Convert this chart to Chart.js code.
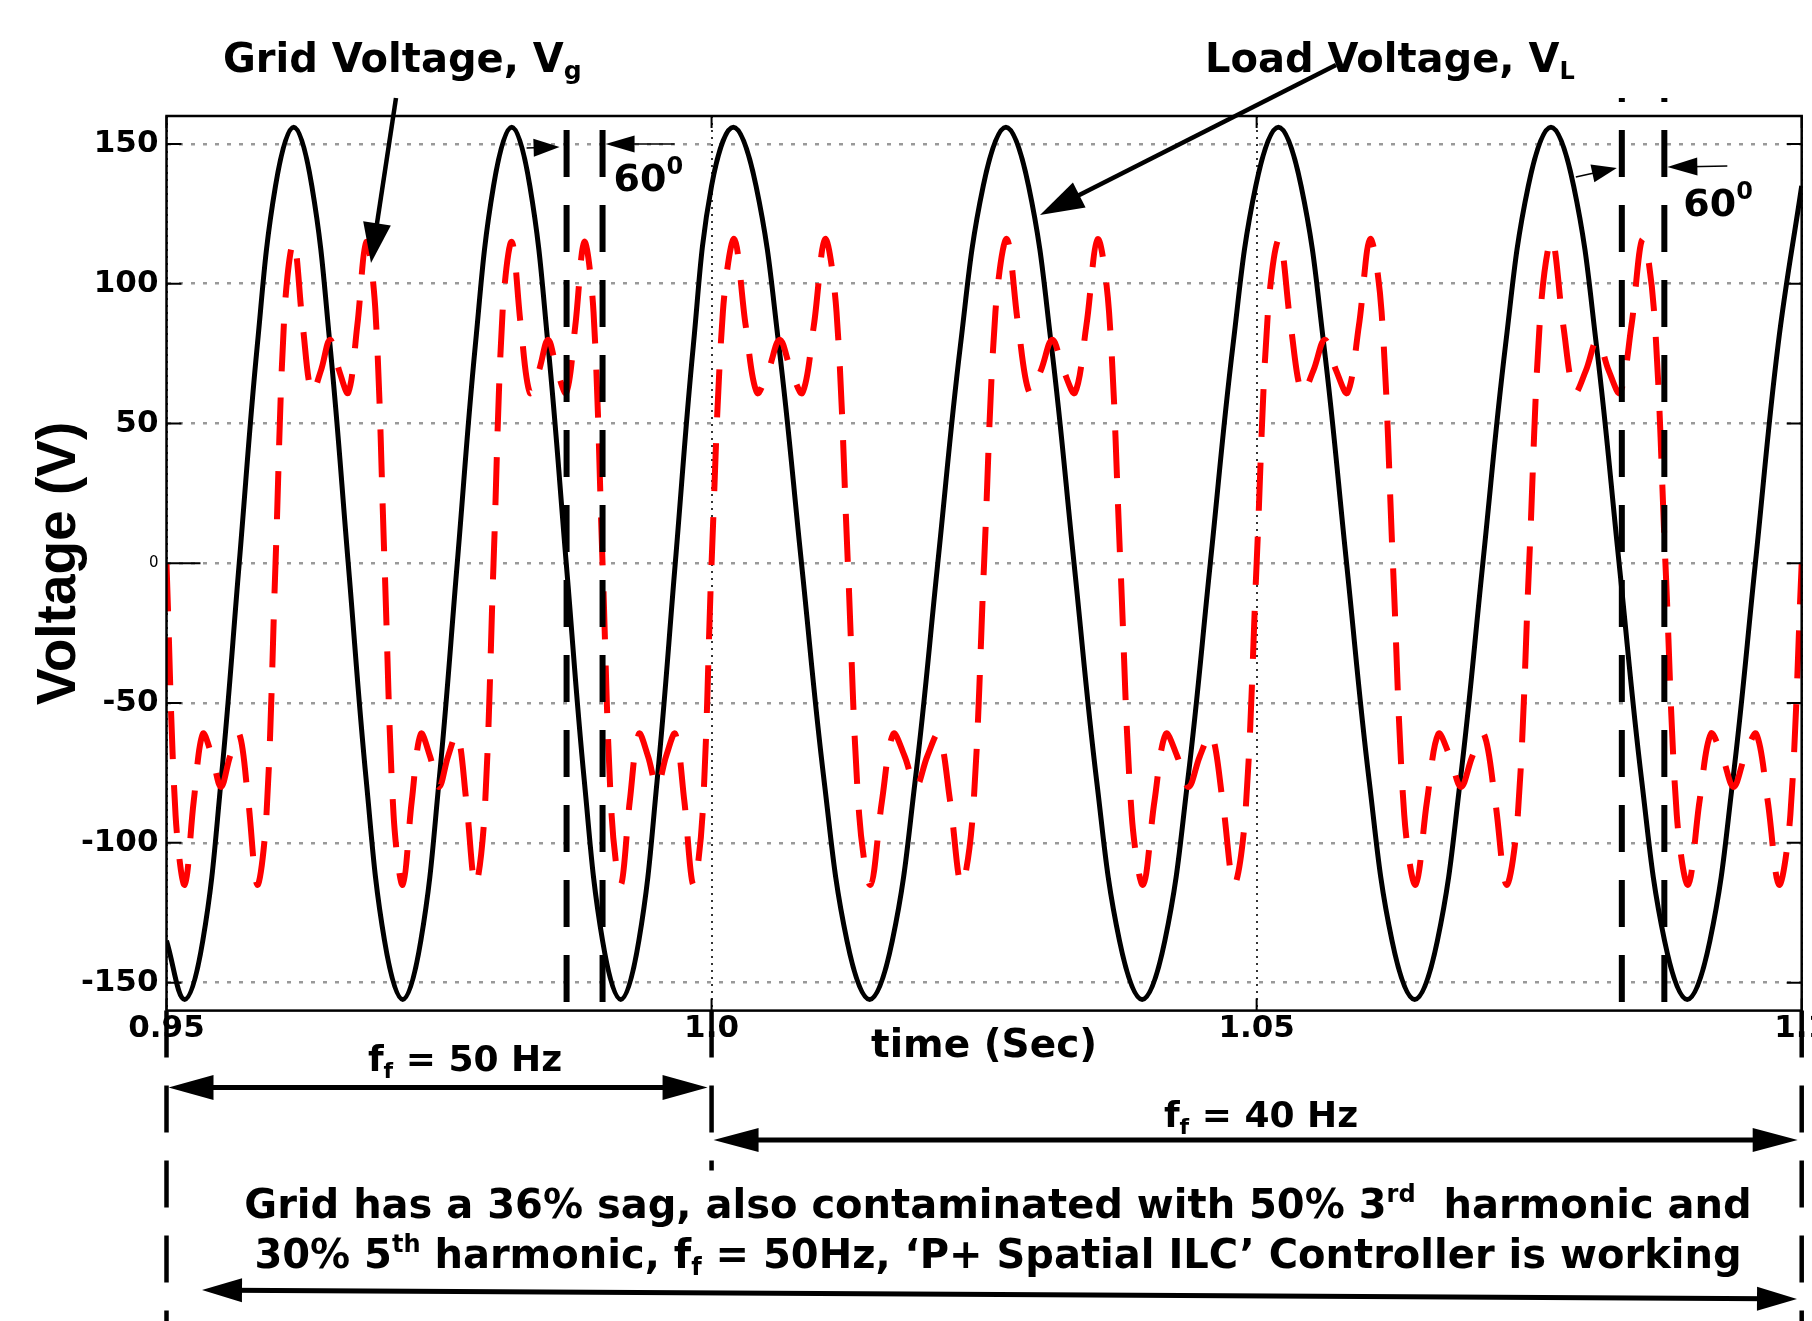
<!DOCTYPE html>
<html>
<head>
<meta charset="utf-8">
<title>Grid and load voltage</title>
<script src="https://cdn.jsdelivr.net/npm/chart.js@4.4.1/dist/chart.umd.min.js"></script>
<style>
  html, body { margin: 0; padding: 0; background: #fff; }
  #wrap { position: relative; width: 1812px; height: 1321px; }
</style>
</head>
<body>
<div id="wrap"><canvas id="voltChart"></canvas></div>
<script>
// Grid voltage Vg (red dashed), read every 15 deg of the fundamental
// 50 Hz until 1.0 s, 40 Hz after
const gridTime = [
    0.95, 0.95083, 0.95167, 0.9525, 0.95333, 0.95417, 0.955, 0.95583, 0.95667, 0.9575, 0.95833, 0.95917,
    0.96, 0.96083, 0.96167, 0.9625, 0.96333, 0.96417, 0.965, 0.96583, 0.96667, 0.9675, 0.96833, 0.96917,
    0.97, 0.97083, 0.97167, 0.9725, 0.97333, 0.97417, 0.975, 0.97583, 0.97667, 0.9775, 0.97833, 0.97917,
    0.98, 0.98083, 0.98167, 0.9825, 0.98333, 0.98417, 0.985, 0.98583, 0.98667, 0.9875, 0.98833, 0.98917,
    0.99, 0.99083, 0.99167, 0.9925, 0.99333, 0.99417, 0.995, 0.99583, 0.99667, 0.9975, 0.99833, 0.99917,
    1.0, 1.00104, 1.00208, 1.00313, 1.00417, 1.00521, 1.00625, 1.00729, 1.00833, 1.00938, 1.01042, 1.01146,
    1.0125, 1.01354, 1.01458, 1.01563, 1.01667, 1.01771, 1.01875, 1.01979, 1.02083, 1.02188, 1.02292, 1.02396,
    1.025, 1.02604, 1.02708, 1.02813, 1.02917, 1.03021, 1.03125, 1.03229, 1.03333, 1.03438, 1.03542, 1.03646,
    1.0375, 1.03854, 1.03958, 1.04063, 1.04167, 1.04271, 1.04375, 1.04479, 1.04583, 1.04688, 1.04792, 1.04896,
    1.05, 1.05104, 1.05208, 1.05313, 1.05417, 1.05521, 1.05625, 1.05729, 1.05833, 1.05938, 1.06042, 1.06146,
    1.0625, 1.06354, 1.06458, 1.06563, 1.06667, 1.06771, 1.06875, 1.06979, 1.07083, 1.07188, 1.07292, 1.07396,
    1.075, 1.07604, 1.07708, 1.07813, 1.07917, 1.08021, 1.08125, 1.08229, 1.08333, 1.08438, 1.08542, 1.08646,
    1.0875, 1.08854, 1.08958, 1.09063, 1.09167, 1.09271, 1.09375, 1.09479, 1.09583, 1.09688, 1.09792, 1.09896,
    1.1
];
const gridVolt = [
    0, -90, -115, -85, -61, -69, -80, -69, -61, -85, -115, -90,
    0, 90, 115, 85, 61, 69, 80, 69, 61, 85, 115, 90,
    0, -90, -115, -85, -61, -69, -80, -69, -61, -85, -115, -90,
    0, 90, 115, 85, 61, 69, 80, 69, 61, 85, 115, 90,
    0, -90, -115, -85, -61, -69, -80, -69, -61, -85, -115, -90,
    0, 90, 116, 85, 61, 69, 80, 69, 61, 85, 116, 90,
    0, -90, -115, -85, -61, -69, -80, -69, -61, -85, -115, -90,
    0, 90, 116, 85, 61, 69, 80, 69, 61, 85, 116, 90,
    0, -90, -115, -85, -61, -69, -80, -69, -61, -85, -115, -90,
    0, 90, 116, 85, 61, 69, 80, 69, 61, 85, 116, 90,
    0, -90, -115, -85, -61, -69, -80, -69, -61, -85, -115, -90,
    0, 90, 116, 85, 61, 69, 80, 69, 61, 85, 116, 90,
    0, -90, -115, -85, -61, -69, -80, -69, -61, -85, -115, -90,
    0
];

// Load voltage VL (black solid), read every 30 deg
const loadTime = [
    0.95, 0.95167, 0.95333, 0.955, 0.95667, 0.95833, 0.96, 0.96167, 0.96333, 0.965, 0.96667, 0.96833,
    0.97, 0.97167, 0.97333, 0.975, 0.97667, 0.97833, 0.98, 0.98167, 0.98333, 0.985, 0.98667, 0.98833,
    0.99, 0.99167, 0.99333, 0.995, 0.99667, 0.99833, 1.0,
    1.002, 1.00408, 1.00617, 1.00825, 1.01033, 1.01242, 1.0145, 1.01658, 1.01867, 1.02075, 1.02283, 1.02492,
    1.027, 1.02908, 1.03117, 1.03325, 1.03533, 1.03742, 1.0395, 1.04158, 1.04367, 1.04575, 1.04783, 1.04992,
    1.052, 1.05408, 1.05617, 1.05825, 1.06033, 1.06242, 1.0645, 1.06658, 1.06867, 1.07075, 1.07283, 1.07492,
    1.077, 1.07908, 1.08117, 1.08325, 1.08533, 1.08742, 1.0895, 1.09158, 1.09367, 1.09575, 1.09783, 1.1
];
const loadVolt = [
    -135, -156, -135, -78, 0, 78, 135, 156, 135, 78, 0, -78,
    -135, -156, -135, -78, 0, 78, 135, 156, 135, 78, 0, -78,
    -135, -156, -135, -78, 0, 78, 135,
    156, 135, 78, 0, -78, -135, -156, -135, -78, 0, 78, 135,
    156, 135, 78, 0, -78, -135, -156, -135, -78, 0, 78, 135,
    156, 135, 78, 0, -78, -135, -156, -135, -78, 0, 78, 135,
    156, 135, 78, 0, -78, -135, -156, -135, -78, 0, 78, 135
];

const timeTicks = [0.95, 1.0, 1.05, 1.1];
const timeTickLabels = ['0.95', '1.0', '1.05', '1.1'];
const voltTicks = [-150, -100, -50, 0, 50, 100, 150];
const voltTickLabels = ['-150', '-100', '-50', '0', '50', '100', '150'];

// zero crossings marked by the 60 deg brackets
const phaseMarks = [0.9867, 0.99, 1.0835, 1.0874];
// f_f segments under the axis
const freqBounds = [0.95, 1.0, 1.1];

const FONT = '"DejaVu Sans", sans-serif';

/* ---------- drawing helpers ---------- */

function arrowHead(ctx, tx, ty, ang, len, half) {
    const bx = tx - Math.cos(ang) * len, by = ty - Math.sin(ang) * len;
    ctx.beginPath();
    ctx.moveTo(tx, ty);
    ctx.lineTo(bx + Math.sin(ang) * half, by - Math.cos(ang) * half);
    ctx.lineTo(bx - Math.sin(ang) * half, by + Math.cos(ang) * half);
    ctx.closePath();
    ctx.fill();
}

function arrowLine(ctx, fx, fy, tx, ty, width, len, half) {
    const ang = Math.atan2(ty - fy, tx - fx);
    ctx.lineWidth = width;
    ctx.beginPath();
    ctx.moveTo(fx, fy);
    ctx.lineTo(tx - Math.cos(ang) * len * 0.7, ty - Math.sin(ang) * len * 0.7);
    ctx.stroke();
    arrowHead(ctx, tx, ty, ang, len, half);
}

function doubleArrow(ctx, x1, y1, x2, y2, width, len, half) {
    const ang = Math.atan2(y2 - y1, x2 - x1);
    ctx.lineWidth = width;
    ctx.beginPath();
    ctx.moveTo(x1 + Math.cos(ang) * len * 0.7, y1 + Math.sin(ang) * len * 0.7);
    ctx.lineTo(x2 - Math.cos(ang) * len * 0.7, y2 - Math.sin(ang) * len * 0.7);
    ctx.stroke();
    arrowHead(ctx, x2, y2, ang, len, half);
    arrowHead(ctx, x1, y1, ang + Math.PI, len, half);
}

// parts: [text, size, baseline shift]  (sub/superscripts)
function richText(ctx, parts, x, y, align) {
    let w = 0;
    parts.forEach(p => {
        ctx.font = 'bold ' + p[1] + 'px ' + FONT;
        w += ctx.measureText(p[0]).width;
    });
    let cx = align === 'center' ? x - w / 2 : x;
    ctx.textAlign = 'left';
    ctx.textBaseline = 'alphabetic';
    parts.forEach(p => {
        ctx.font = 'bold ' + p[1] + 'px ' + FONT;
        ctx.fillText(p[0], cx, y + p[2]);
        cx += ctx.measureText(p[0]).width;
    });
}

/* ---------- annotations (frame, markers, arrows, notes) ---------- */

const annotations = {
    id: 'annotations',
    afterDraw(chart) {
        const { ctx, chartArea: a, scales: { x, y } } = chart;
        ctx.save();
        ctx.fillStyle = '#000';
        ctx.strokeStyle = '#000';

        // box round the plot
        ctx.lineWidth = 2.5;
        ctx.strokeRect(a.left, a.top, a.right - a.left, a.bottom - a.top);

        // inward tick marks
        ctx.lineWidth = 2;
        voltTicks.forEach(v => {
            const py = y.getPixelForValue(v);
            ctx.beginPath();
            ctx.moveTo(a.left, py); ctx.lineTo(a.left + (v === 0 ? 34 : 15), py);
            ctx.moveTo(a.right, py); ctx.lineTo(a.right - 15, py);
            ctx.stroke();
        });
        timeTicks.forEach(t => {
            const px = x.getPixelForValue(t);
            ctx.beginPath();
            ctx.moveTo(px, a.top); ctx.lineTo(px, a.top + 12);
            ctx.moveTo(px, a.bottom); ctx.lineTo(px, a.bottom - 12);
            ctx.stroke();
        });

        // dashed zero crossing markers
        ctx.setLineDash([47, 28]);
        ctx.lineWidth = 6;
        phaseMarks.forEach((t, i) => {
            const px = x.getPixelForValue(t);
            ctx.lineDashOffset = i < 2 ? 0 : 43;
            ctx.beginPath();
            ctx.moveTo(px, i < 2 ? 130 : 98);
            ctx.lineTo(px, a.bottom);
            ctx.stroke();
        });

        // dashed bracket lines under the axis
        ctx.lineWidth = 4.5;
        ctx.lineDashOffset = 0;
        freqBounds.forEach((t, i) => {
            const px = x.getPixelForValue(t);
            ctx.beginPath();
            ctx.moveTo(px, a.bottom);
            ctx.lineTo(px, i === 1 ? a.bottom + 160 : chart.height);
            ctx.stroke();
        });
        ctx.setLineDash([]);

        // small arrows pointing at the markers
        const m = phaseMarks.map(t => x.getPixelForValue(t));
        arrowLine(ctx, m[0] - 40, 148, m[0] - 7, 147, 1.5, 26, 9);
        arrowLine(ctx, m[1] + 72, 144, m[1] + 3, 144, 1.5, 29, 8.5);
        arrowLine(ctx, m[2] - 46, 177, m[2] - 5, 168, 1.5, 25, 9);
        arrowLine(ctx, m[3] + 63, 166, m[3] + 3, 167, 1.5, 30, 9);
        richText(ctx, [['60', 38, 0], ['0', 24, -17]], m[1] + 11, 191, 'left');
        richText(ctx, [['60', 38, 0], ['0', 24, -17]], m[3] + 19, 216, 'left');

        // series labels with arrows
        richText(ctx, [['Grid Voltage, V', 40, 0], ['g', 25, 7]], 223, 72, 'left');
        arrowLine(ctx, 396, 98, 371, 263, 4.5, 40, 14);
        richText(ctx, [['Load Voltage, V', 40, 0], ['L', 24, 7]], 1205, 72, 'left');
        arrowLine(ctx, 1336, 65, 1040, 215, 4.5, 44, 14);

        // frequency segments
        const x0 = x.getPixelForValue(freqBounds[0]);
        const x1 = x.getPixelForValue(freqBounds[1]);
        const x2 = x.getPixelForValue(freqBounds[2]);
        richText(ctx, [['f', 36, 0], ['f', 22, 7], [' = 50 Hz', 36, 0]], 465, 1071, 'center');
        doubleArrow(ctx, x0 + 2, 1087.5, x1 - 4, 1087.5, 5, 45, 12.5);
        richText(ctx, [['f', 36, 0], ['f', 22, 7], [' = 40 Hz', 36, 0]], 1261, 1127, 'center');
        doubleArrow(ctx, x1 + 2, 1140, x2 - 4, 1140, 5, 45, 12);

        // test conditions note
        richText(ctx, [
            ['Grid has a 36% sag, also contaminated with 50% 3', 40, 0],
            ['rd', 24, -16],
            ['  harmonic and', 40, 0]
        ], 998, 1218, 'center');
        richText(ctx, [
            ['30% 5', 40, 0],
            ['th', 24, -16],
            [' harmonic, f', 40, 0],
            ['f', 24, 7],
            [' = 50Hz, \u2018P+ Spatial ILC\u2019 Controller is working', 40, 0]
        ], 998, 1268, 'center');
        doubleArrow(ctx, 202, 1290, 1797, 1299, 5, 40, 12);

        ctx.restore();
    }
};

/* ---------- chart ---------- */

const ctx = document.getElementById('voltChart');

new Chart(ctx, {
    type: 'line',
    data: {
        datasets: [{
            label: 'Grid Voltage, Vg',
            data: gridTime.map((t, i) => ({ x: t, y: gridVolt[i] })),
            borderColor: '#ff0000',
            borderWidth: 6,
            borderDash: [48, 26],
            pointRadius: 0,
            tension: 0.35,
            fill: false
        }, {
            label: 'Load Voltage, VL',
            data: loadTime.map((t, i) => ({ x: t, y: loadVolt[i] })),
            borderColor: '#000000',
            borderWidth: 5,
            pointRadius: 0,
            tension: 0.4,
            fill: false
        }]
    },
    options: {
        responsive: true,
        maintainAspectRatio: false,
        animation: false,
        layout: { padding: { top: 116, right: 10.3, bottom: 250.4, left: 0 } },
        plugins: {
            legend: { display: false },
            tooltip: { enabled: false }
        },
        scales: {
            x: {
                type: 'linear',
                min: 0.95,
                max: 1.1,
                afterBuildTicks: s => { s.ticks = timeTicks.map(v => ({ value: v })); },
                afterFit: s => { s.height = 60; s.paddingLeft = 0; s.paddingRight = 0; },
                ticks: {
                    autoSkip: false,
                    maxRotation: 0,
                    padding: 0,
                    color: '#000',
                    font: { family: FONT, size: 31, weight: 'bold' },
                    callback: (v, i) => timeTickLabels[i]
                },
                grid: { color: '#333', lineWidth: 2, drawTicks: false },
                border: { display: false, dash: [2, 5] },
                title: {
                    display: true,
                    text: 'time (Sec)',
                    color: '#000',
                    font: { family: FONT, size: 39, weight: 'bold' },
                    padding: 0
                }
            },
            y: {
                min: -160,
                max: 160,
                afterBuildTicks: s => { s.ticks = voltTicks.map(v => ({ value: v })); },
                afterFit: s => { s.width = 166.5; s.paddingTop = 0; s.paddingBottom = 0; },
                ticks: {
                    padding: 8,
                    color: '#000',
                    font: c => (c.tick && c.tick.value === 0)
                        ? { family: FONT, size: 15, weight: 'normal' }
                        : { family: FONT, size: 31, weight: 'bold' },
                    callback: (v, i) => voltTickLabels[i]
                },
                grid: { color: '#999', lineWidth: 2.5, drawTicks: false },
                border: { display: false, dash: [4, 8] },
                title: {
                    display: true,
                    text: 'Voltage (V)',
                    color: '#000',
                    font: { family: '"Liberation Sans", Arial, sans-serif', size: 55, weight: 'bold' },
                    padding: { top: 27, bottom: 0 }
                }
            }
        }
    },
    plugins: [annotations]
});
</script>
</body>
</html>
